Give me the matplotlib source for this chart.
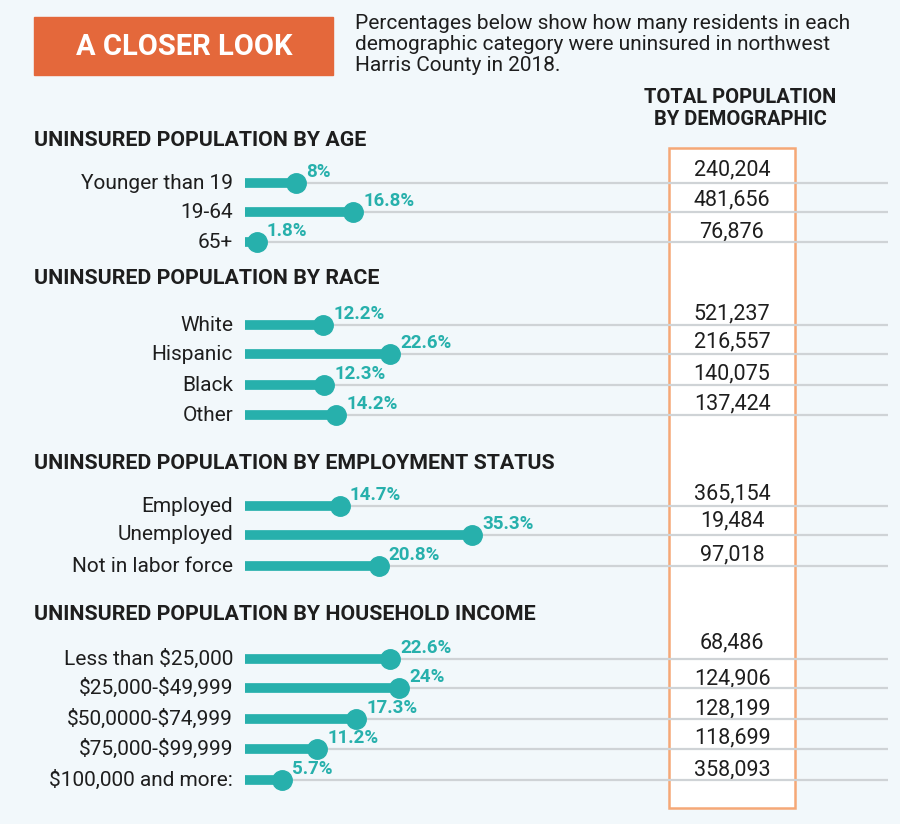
"""Lollipop chart: uninsured share by demographic, northwest Harris County 2018."""

import matplotlib
import matplotlib.pyplot as plt
import matplotlib.patches as mpatches

matplotlib.use("Agg")

plt.rcParams["font.family"] = ["Roboto", "DejaVu Sans"]

# ---- data -------------------------------------------------------------
section_titles = [
    "UNINSURED POPULATION BY AGE",
    "UNINSURED POPULATION BY RACE",
    "UNINSURED POPULATION BY EMPLOYMENT STATUS",
    "UNINSURED POPULATION BY HOUSEHOLD INCOME",
]
age_labels = ["Younger than 19", "19-64", "65+"]
age_pct = [8, 16.8, 1.8]
age_pop = [240204, 481656, 76876]

race_labels = ["White", "Hispanic", "Black", "Other"]
race_pct = [12.2, 22.6, 12.3, 14.2]
race_pop = [521237, 216557, 140075, 137424]

emp_labels = ["Employed", "Unemployed", "Not in labor force"]
emp_pct = [14.7, 35.3, 20.8]
emp_pop = [365154, 19484, 97018]

income_labels = [
    "Less than $25,000",
    "$25,000-$49,999",
    "$50,0000-$74,999",
    "$75,000-$99,999",
    "$100,000 and more:",
]
income_pct = [22.6, 24, 17.3, 11.2, 5.7]
income_pop = [68486, 124906, 128199, 118699, 358093]

# ---- layout (pixel rows, top-down) -------------------------------------
title_y = [140, 278, 463, 615]
row_y = [
    [183, 212, 242],
    [325, 354, 385, 415],
    [506, 535, 566],
    [659, 688, 719, 749, 780],
]
pop_y = [
    [170, 200, 232],
    [314, 342, 374, 404],
    [494, 521, 555],
    [643, 679, 709, 738, 770],
]

TEAL = "#27b0ac"
ORANGE = "#e4683b"
BOX_EDGE = "#f5a877"
GRID = "#cfd3d6"
BG = "#f2f8fb"
INK = "#1e1e1e"

W, H = 900, 824
fig = plt.figure(figsize=(W / 100, H / 100), dpi=100, facecolor=BG)

# canvas axes in pixel coordinates for the text layout
canvas = fig.add_axes([0, 0, 1, 1])
canvas.set_xlim(0, W)
canvas.set_ylim(H, 0)
canvas.axis("off")

# lollipop axes: 0..100 % spans pixel 245..888
x0, x1 = 245, 888
lol = fig.add_axes([x0 / W, 0, (x1 - x0) / W, 1])
lol.set_xlim(0, 100)
lol.set_ylim(H, 0)
lol.axis("off")
lol.patch.set_alpha(0)

# header block
canvas.add_patch(mpatches.Rectangle((34, 17), 299, 58, color=ORANGE, zorder=2))
canvas.text(184, 47, "A CLOSER LOOK", color="white", fontsize=21,
            fontweight="bold", ha="center", va="center", zorder=3)
canvas.text(355, 14,
            "Percentages below show how many residents in each\n"
            "demographic category were uninsured in northwest\n"
            "Harris County in 2018.",
            fontsize=15, color=INK, ha="left", va="top", linespacing=1.12)
canvas.text(740, 108, "TOTAL POPULATION\nBY DEMOGRAPHIC", fontsize=14.5,
            fontweight="bold", color=INK, ha="center", va="center",
            linespacing=1.2)

# total population column box (drawn above the grid lines)
canvas.add_patch(mpatches.Rectangle((669, 148), 126, 660, facecolor="white",
                                    edgecolor=BOX_EDGE, linewidth=1.8,
                                    zorder=4))

sections = [
    (age_labels, age_pct, age_pop),
    (race_labels, race_pct, race_pop),
    (emp_labels, emp_pct, emp_pop),
    (income_labels, income_pct, income_pop),
]

for i, (labels, pcts, pops) in enumerate(sections):
    canvas.text(34, title_y[i], section_titles[i], fontsize=15.4,
                fontweight="bold", color=INK, ha="left", va="center")
    for label, pct, pop, y, py in zip(labels, pcts, pops, row_y[i], pop_y[i]):
        canvas.text(233, y, label, fontsize=15, color=INK,
                    ha="right", va="center", parse_math=False)
        lol.plot([0, 100], [y, y], color=GRID, linewidth=1.6, zorder=1,
                 solid_capstyle="butt")
        lol.plot([0, pct], [y, y], color=TEAL, linewidth=7, zorder=5,
                 solid_capstyle="butt")
        lol.plot([pct], [y], "o", color=TEAL, markersize=14, zorder=6)
        lol.annotate(f"{pct:g}%", (pct, y), xytext=(10, 11),
                     textcoords="offset pixels", fontsize=13.5,
                     fontweight="bold", color=TEAL, ha="left", va="center",
                     zorder=6)
        canvas.text(732, py, f"{pop:,}", fontsize=15.5, color=INK,
                    ha="center", va="center", zorder=6)

fig.savefig("out.png", dpi=100, facecolor=BG)
plt.close(fig)
